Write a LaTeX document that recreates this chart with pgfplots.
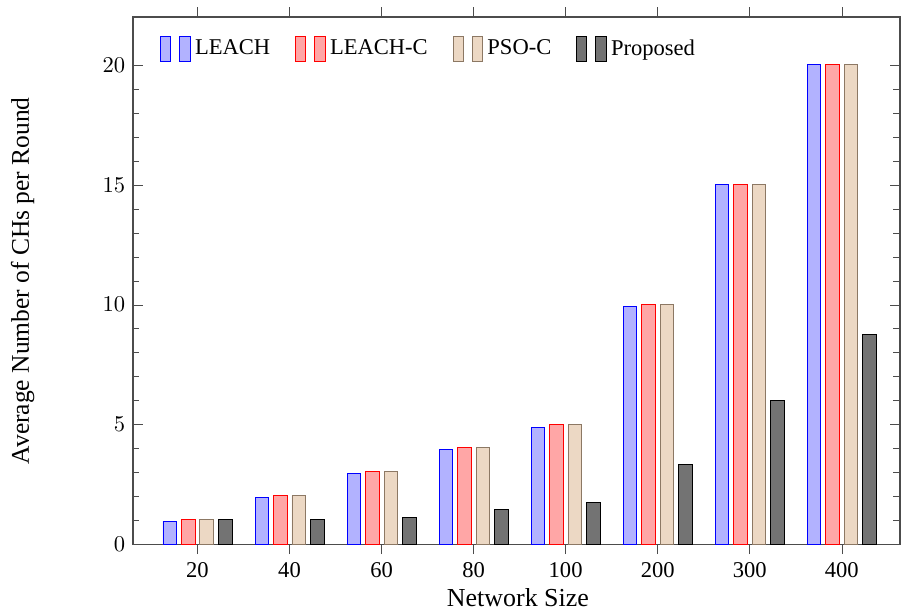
\documentclass[border=0pt]{standalone}
\usepackage{fontspec}
\setmainfont{Liberation Serif}
\usepackage{pgfplots}
\pgfplotsset{compat=1.18}
\definecolor{psofill}{RGB}{236,216,196}
\definecolor{psodraw}{RGB}{140,120,100}
\begin{document}
\begin{tikzpicture}
\useasboundingbox (-59pt,-29pt) rectangle (341pt,241.5pt);
\begin{axis}[
  scale only axis,
  width=340pt, height=234pt,
  ybar=2.2pt, bar width=6pt,
  xmin=-0.7, xmax=7.63,
  ymin=0, ymax=22,
  xtick={0,1,2,3,4,5,6,7},
  xticklabels={20,40,60,80,100,200,300,400},
  ytick={0,5,10,15,20},
  minor y tick num=4,
  tick style={black!70},
  axis line style={black!70, line width=0.8pt},
  xticklabel style={yshift=0pt},
  every tick label/.append style={font=\normalsize},
  xlabel={Network Size},
  ylabel={Average Number of CHs per Round},
  xlabel style={font=\fontsize{11.5}{13}\selectfont, at={(axis description cs:0.502,-0.1)}, anchor=center},
  ylabel style={font=\fontsize{11.3}{13}\selectfont, at={(axis description cs:-0.144,0.5)}, anchor=center},
  legend image code/.code={%
    \draw[#1] (0cm,-0.19cm) rectangle (0.16cm,0.19cm);
    \draw[#1] (0.30cm,-0.19cm) rectangle (0.46cm,0.19cm);},
  legend style={draw=none, fill=none, at={(axis description cs:0.026,0.975)}, anchor=north west,
    font=\fontsize{10}{12}\selectfont, /tikz/every even column/.append style={column sep=9pt}},
  legend columns=4,
]
\addplot[draw=blue, fill=blue!30] coordinates {(0,0.98) (1,1.98) (2,2.97) (3,3.97) (4,4.9) (5,9.92) (6,15) (7,20)};
\addplot[draw=red, fill=red!35] coordinates {(0,1.05) (1,2.04) (2,3.04) (3,4.03) (4,5.0) (5,10.0) (6,15) (7,20)};
\addplot[draw=psodraw, fill=psofill] coordinates {(0,1.05) (1,2.04) (2,3.04) (3,4.03) (4,5.0) (5,10.0) (6,15) (7,20)};
\addplot[draw=black, fill=black!55] coordinates {(0,1.05) (1,1.03) (2,1.14) (3,1.47) (4,1.76) (5,3.32) (6,6.0) (7,8.75)};
\legend{LEACH, LEACH-C, PSO-C, Proposed}
\end{axis}
\end{tikzpicture}
\end{document}
